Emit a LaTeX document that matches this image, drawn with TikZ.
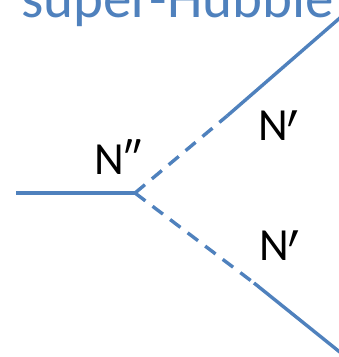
\documentclass[tikz,border=0pt]{standalone}
\usepackage{fontspec}
\setmainfont{Carlito}
\newfontfamily\primefont{DejaVu Sans}
\usetikzlibrary{positioning}
\definecolor{hubblue}{RGB}{79,129,189}
\newcommand{\prm}{\raisebox{-34pt}{\scalebox{1.1}[1.9]{\primefont\fontsize{46}{50}\selectfont ′}}}
\tikzset{
  titletxt/.style = {font=\fontsize{57}{60}\selectfont, text=hubblue,
                     inner sep=0pt, anchor=base west},
  partlbl/.style  = {font=\fontsize{46}{50}\selectfont, text=black,
                     inner sep=0pt, anchor=base west},
  leg/.style      = {line width=3.4pt, hubblue},
  legdash/.style  = {leg, dash pattern=on 13pt off 9pt},
}
\begin{document}
\begin{tikzpicture}[x=1pt, y=-1pt]
    \useasboundingbox (0,0) rectangle (339,357);
    \clip (0,0) rectangle (339,357);
    % heading, cut at the top edge
    \node[titletxt] (title) at (21,17) {super-Hubble};
    % vertex and legs
    \coordinate (vtx)  at (135,193);
    \coordinate (inl)  at (16,193);
    \coordinate (upA)  at (227,116);
    \coordinate (upB)  at (341,17);
    \coordinate (loA)  at (254,283);
    \coordinate (loB)  at (341,353);
    \draw[leg] (inl) -- (vtx);
    \draw[legdash] (vtx) -- (upA);
    \draw[leg] (upA) -- (upB);
    \draw[legdash] (vtx) -- (loA);
    \draw[leg] (loA) -- (loB);
    % labels
    \node[partlbl] (heavy) at (94,174) {N″};
    \node[partlbl] (upN)   at (258,140) {N\prm};
    \node[partlbl] (loN)   at (259,260) {N\prm};
  \end{tikzpicture}
\end{document}
